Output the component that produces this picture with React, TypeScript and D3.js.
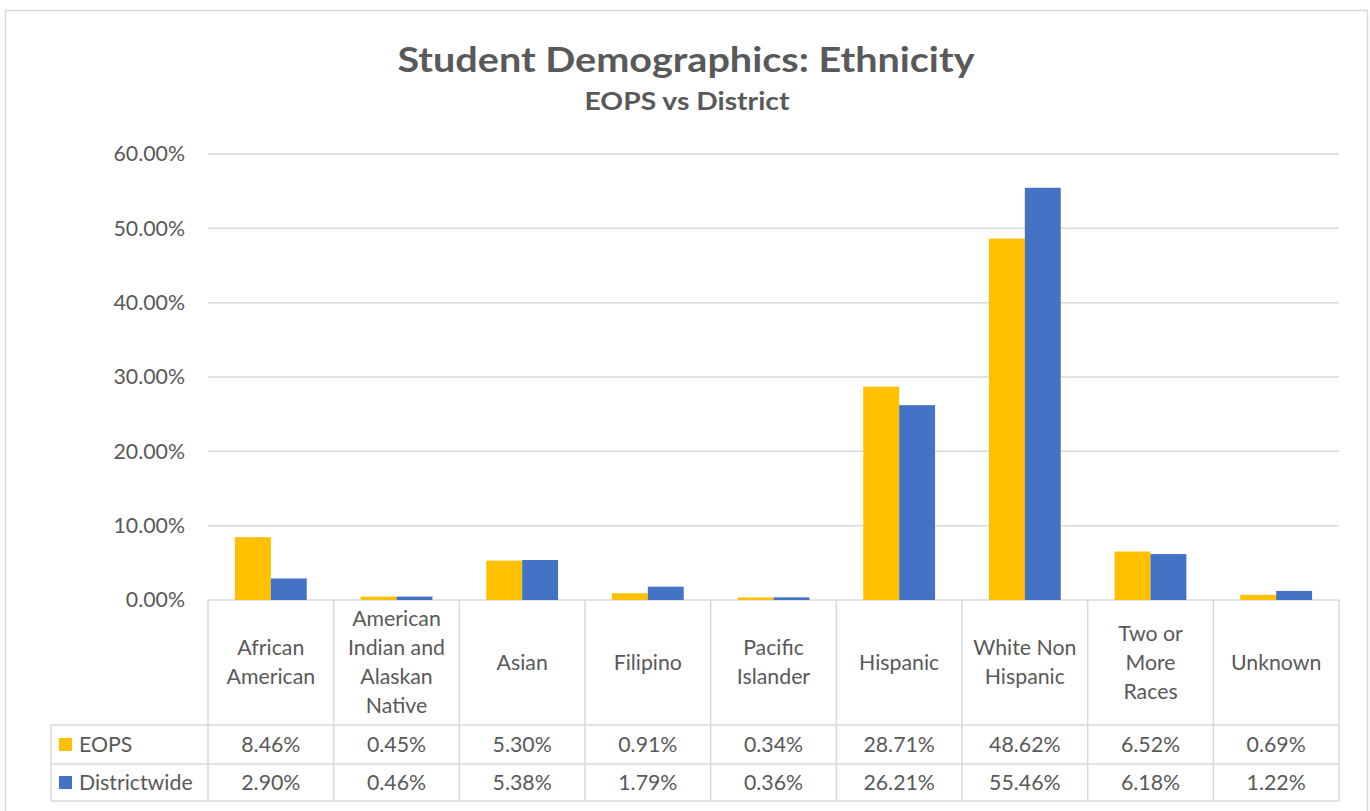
import React from "react";
import * as d3 from "d3";

const categories: string[][] = [
  ["African", "American"],
  ["American", "Indian and", "Alaskan", "Native"],
  ["Asian"],
  ["Filipino"],
  ["Pacific", "Islander"],
  ["Hispanic"],
  ["White Non", "Hispanic"],
  ["Two or", "More", "Races"],
  ["Unknown"],
];
const categoryKeys = categories.map((c) => c.join(" "));
const seriesNames = ["EOPS", "Districtwide"];
const eopsValues = [8.46, 0.45, 5.3, 0.91, 0.34, 28.71, 48.62, 6.52, 0.69];
const districtValues = [2.9, 0.46, 5.38, 1.79, 0.36, 26.21, 55.46, 6.18, 1.22];
const yTicks = [0, 10, 20, 30, 40, 50, 60];
const colors = ["#FFC000", "#4472C4"];

const W = 1370;
const H = 811;
const FONT = "Lato, 'Open Sans', sans-serif";
const TEXT = "#595959";
const GRID = "#D9D9D9";
const FS = 21.3;

export default function App() {
  const left = 208;
  const right = 1339;
  const top = 154;
  const bottom = 600;
  const legendLeft = 51;
  const rowTops = [600, 725, 764, 801];

  const x = d3.scaleBand<string>().domain(categoryKeys).range([left, right]).paddingInner(0).paddingOuter(0);
  const inner = d3
    .scaleBand<string>()
    .domain(seriesNames)
    .range([0, x.bandwidth()])
    .paddingInner(0)
    .paddingOuter(0.75);
  const y = d3.scaleLinear().domain([0, 60]).range([bottom, top]);
  const series = [eopsValues, districtValues];
  const fmt = (v: number) => d3.format(".2f")(v) + "%";

  const headerMid = (rowTops[0] + rowTops[1]) / 2;
  const lineH = 29;

  return (
    <svg
      width={W}
      height={H}
      style={{ position: "absolute", left: 0, top: 0, display: "block", background: "#fff" }}
      fontFamily={FONT}
    >
      <rect x={5.5} y={10.5} width={1362} height={820} fill="#fff" stroke={GRID} strokeWidth={1.5} />

      <text x={686} y={72} textAnchor="middle" fontSize={35} fontWeight="bold" fill={TEXT} textLength={577} lengthAdjust="spacingAndGlyphs">
        Student Demographics: Ethnicity
      </text>
      <text x={687} y={110} textAnchor="middle" fontSize={25} fontWeight="bold" fill={TEXT} textLength={205} lengthAdjust="spacingAndGlyphs">
        EOPS vs District
      </text>

      {yTicks.map((t) => (
        <g key={t}>
          <line x1={left} x2={right} y1={y(t)} y2={y(t)} stroke={GRID} strokeWidth={1.5} />
          <text x={185} y={y(t)} dy="0.35em" textAnchor="end" fontSize={FS} fill={TEXT}>
            {d3.format(".2f")(t) + "%"}
          </text>
        </g>
      ))}

      {categoryKeys.map((c, i) =>
        seriesNames.map((s, j) => (
          <rect
            key={c + s}
            x={(x(c) as number) + (inner(s) as number)}
            y={y(series[j][i])}
            width={inner.bandwidth()}
            height={bottom - y(series[j][i])}
            fill={colors[j]}
          />
        ))
      )}

      {/* data table grid */}
      <g stroke={GRID} strokeWidth={1.5}>
        {[...categoryKeys.map((c) => x(c) as number), right].map((xx, i) => (
          <line key={"v" + i} x1={xx} x2={xx} y1={rowTops[0]} y2={rowTops[3]} />
        ))}
        <line x1={legendLeft} x2={legendLeft} y1={rowTops[1]} y2={rowTops[3]} />
        {rowTops.slice(1).map((yy, i) => (
          <line key={"h" + i} x1={legendLeft} x2={right} y1={yy} y2={yy} />
        ))}
      </g>

      {categories.map((lines, i) => {
        const cx = (x(categoryKeys[i]) as number) + x.bandwidth() / 2;
        const start = headerMid - ((lines.length - 1) * lineH) / 2;
        return (
          <text key={"cat" + i} x={cx} textAnchor="middle" fontSize={FS} fill={TEXT}>
            {lines.map((l, k) => (
              <tspan key={k} x={cx} y={start + k * lineH} dy="0.35em">
                {l}
              </tspan>
            ))}
          </text>
        );
      })}

      {seriesNames.map((s, j) => {
        const cy = (rowTops[j + 1] + rowTops[j + 2]) / 2;
        return (
          <g key={"row" + s}>
            <rect x={59} y={cy - 6.5} width={13} height={13} fill={colors[j]} />
            <text x={79} y={cy} dy="0.35em" fontSize={FS} fill={TEXT}>
              {s}
            </text>
            {categoryKeys.map((c, i) => (
              <text
                key={c}
                x={(x(c) as number) + x.bandwidth() / 2}
                y={cy}
                dy="0.35em"
                textAnchor="middle"
                fontSize={FS}
                fill={TEXT}
              >
                {fmt(series[j][i])}
              </text>
            ))}
          </g>
        );
      })}
    </svg>
  );
}
